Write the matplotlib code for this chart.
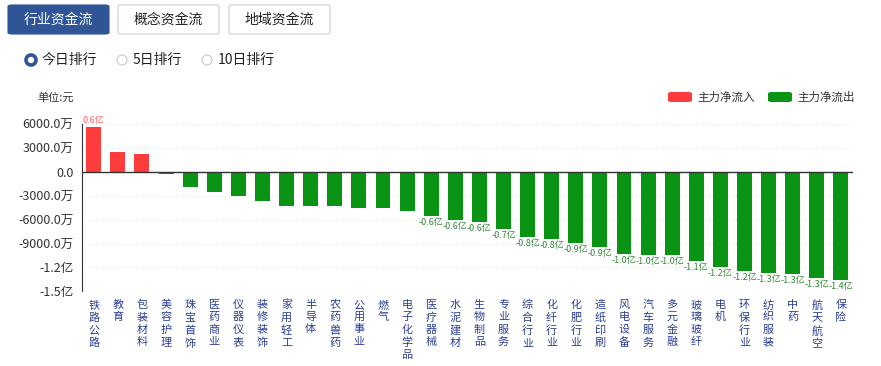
import numpy as np
import matplotlib.pyplot as plt
from matplotlib.patches import FancyBboxPatch, Ellipse

plt.rcParams['font.family'] = ['Noto Sans CJK SC', 'DejaVu Sans']

# data (unit: 万元)
industries = ["铁路公路", "教育", "包装材料", "美容护理", "珠宝首饰", "医药商业", "仪器仪表",
              "装修装饰", "家用轻工", "半导体", "农药兽药", "公用事业", "燃气", "电子化学品",
              "医疗器械", "水泥建材", "生物制品", "专业服务", "综合行业", "化纤行业", "化肥行业",
              "造纸印刷", "风电设备", "汽车服务", "多元金融", "玻璃玻纤", "电机", "环保行业",
              "纺织服装", "中药", "航天航空", "保险"]
net_flow = [5720, 2460, 2260, -300, -1930, -2560, -3010, -3600, -4270, -4230, -4310,
            -4480, -4520, -4860, -5520, -5990, -6240, -7120, -8200, -8410, -8870, -9410,
            -10250, -10420, -10460, -11220, -11920, -12390, -12640, -12850, -13390, -13520]
yticks = [6000, 3000, 0, -3000, -6000, -9000, -12000, -15000]
ytick_labels = ["6000.0万", "3000.0万", "0.0", "-3000.0万", "-6000.0万", "-9000.0万", "-1.2亿", "-1.5亿"]

RED = "#ff3c3c"
GREEN = "#0a9414"
BLUE = "#2f5597"

fig = plt.figure(figsize=(8.81, 3.66), dpi=100)
W, H = 881, 366

def px(x, y):
    return x / W, 1 - y / H

# top buttons
for i, (lab, x0) in enumerate([("行业资金流", 8), ("概念资金流", 118), ("地域资金流", 229)]):
    x, y = px(x0, 34)
    box = FancyBboxPatch((x, y), 101 / W, 29 / H, boxstyle="round,pad=0,rounding_size=0.004",
                         transform=fig.transFigure, facecolor=BLUE if i == 0 else "white",
                         edgecolor=BLUE if i == 0 else "#c8ccd4", linewidth=0.8)
    fig.add_artist(box)
    fig.text(*px(x0 + 50.5, 19.5), lab, ha="center", va="center", fontsize=10,
             color="white" if i == 0 else "#222222")

# radio buttons
for x0, lab, on in [(31, "今日排行", True), (122, "5日排行", False), (207, "10日排行", False)]:
    c = Ellipse(px(x0, 60), 10 / W, 10 / H, transform=fig.transFigure,
                facecolor="white", edgecolor=BLUE if on else "#c8c8c8",
                linewidth=2.6 if on else 0.8)
    fig.add_artist(c)
    fig.text(*px(x0 + 11, 60), lab, ha="left", va="center", fontsize=10, color="#222222")

fig.text(*px(37, 97), "单位:元", ha="left", va="center", fontsize=8, color="#333333")

# legend
for x0, col, lab in [(668, RED, "主力净流入"), (768, GREEN, "主力净流出")]:
    x, y = px(x0, 102)
    fig.add_artist(FancyBboxPatch((x, y), 24 / W, 10 / H,
                                  boxstyle="round,pad=0,rounding_size=0.004",
                                  transform=fig.transFigure, facecolor=col, edgecolor="none"))
    fig.text(*px(x0 + 29, 97), lab, ha="left", va="center", fontsize=8.3, color="#333333")

ax = fig.add_axes([81.7 / W, 1 - 291.3 / H, (853 - 81.7) / W, (291.3 - 124.3) / H])
x = np.arange(len(industries))
colors = [RED if v > 0 else GREEN for v in net_flow]
ax.bar(x, net_flow, width=0.62, color=colors, zorder=3)

for xi, v in zip(x, net_flow):
    if abs(v) >= 5000:
        ax.text(xi, v + (150 if v > 0 else -250), f"{v / 10000:.1f}亿", ha="center",
                va="bottom" if v > 0 else "top", fontsize=6.5,
                color="#ff6464" if v > 0 else "#2e8b32")

ax.set_ylim(-15000, 6000)
ax.set_xlim(-0.5, len(industries) - 0.5)
ax.set_yticks(yticks)
ax.set_yticklabels(ytick_labels, fontsize=9, color="#333333")
for t in yticks:
    if t != 0:
        ax.axhline(t, color="#e3e3e3", linestyle=(0, (1, 2)), linewidth=0.8, zorder=1)
ax.axhline(0, color="#333333", linewidth=1.0, zorder=4)
for s in ["top", "right", "bottom"]:
    ax.spines[s].set_visible(False)
ax.spines["left"].set_color("#333333")
ax.tick_params(axis="y", length=0, pad=6)
ax.tick_params(axis="x", length=0, pad=6)
ax.set_xticks(x)
ax.set_xticklabels(["\n".join(s) for s in industries], fontsize=8, color="#2a3f93",
                   linespacing=1.3, va="top")

plt.savefig("out.png", dpi=100)
